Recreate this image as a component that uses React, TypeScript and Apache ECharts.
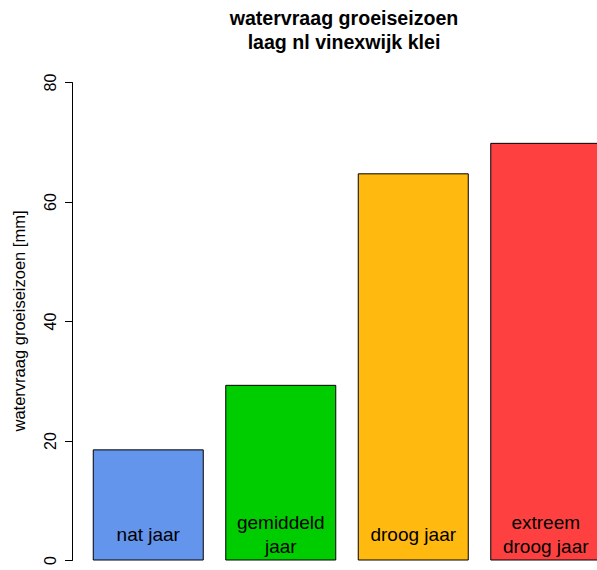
import React, { useEffect, useRef } from "react";
import * as echarts from "echarts";

const categories = ["nat jaar", "gemiddeld jaar", "droog jaar", "extreem droog jaar"];
const barLabels = ["nat jaar", "gemiddeld\njaar", "droog jaar", "extreem\ndroog jaar"];
const values = [18.6, 29.4, 64.8, 69.9];
const barColors = ["#6495ED", "#00CD00", "#FFB90F", "#FF4040"];
const yTicks = [0, 20, 40, 60, 80];

const FONT = "'Liberation Sans', Arial, sans-serif";

export default function App() {
  const ref = useRef<HTMLDivElement>(null);
  useEffect(() => {
    if (!ref.current) return;
    const chart = echarts.init(ref.current, null, { renderer: "svg" });
    chart.setOption({
      animation: false,
      backgroundColor: "#ffffff",
      textStyle: { fontFamily: FONT },
      grid: { left: 82, top: 82.5, width: 530, height: 478, containLabel: false },
      xAxis: {
        type: "category",
        data: categories,
        axisLine: { show: false },
        axisTick: { show: false },
        axisLabel: { show: false },
        splitLine: { show: false },
      },
      yAxis: {
        type: "value",
        min: yTicks[0],
        max: yTicks[yTicks.length - 1],
        interval: 20,
        offset: 10,
        axisLine: { show: true, lineStyle: { color: "#000", width: 1 } },
        axisTick: { show: true, length: 7, lineStyle: { color: "#000" } },
        splitLine: { show: false },
        axisLabel: {
          rotate: 90,
          margin: 14,
          color: "#000",
          fontSize: 16,
          fontFamily: FONT,
        },
      },
      graphic: [
        {
          type: "text",
          x: 344,
          y: 30,
          style: {
            text: "watervraag groeiseizoen\nlaag nl vinexwijk klei",
            textAlign: "center",
            textVerticalAlign: "middle",
            font: `bold 19.6px ${FONT}`,
            lineHeight: 24,
            fill: "#000",
          },
        },
        {
          type: "text",
          x: 19,
          y: 321,
          rotation: Math.PI / 2,
          style: {
            text: "watervraag groeiseizoen [mm]",
            textAlign: "center",
            textVerticalAlign: "middle",
            font: `16.5px ${FONT}`,
            fill: "#000",
          },
        },
      ],
      series: [
        {
          type: "bar",
          barWidth: 111,
          data: values.map((v, i) => ({
            value: v,
            itemStyle: { color: barColors[i], borderColor: "#000", borderWidth: 1 },
            label: { formatter: barLabels[i] },
          })),
          label: {
            show: true,
            position: "insideBottom",
            distance: 26,
            verticalAlign: "middle",
            align: "center",
            fontSize: 19,
            lineHeight: 24,
            color: "#000",
            fontFamily: FONT,
          },
        },
      ],
    });
    return () => chart.dispose();
  }, []);
  return (
    <div
      ref={ref}
      style={{ position: "fixed", left: 0, top: 0, width: 630, height: 570 }}
    />
  );
}
